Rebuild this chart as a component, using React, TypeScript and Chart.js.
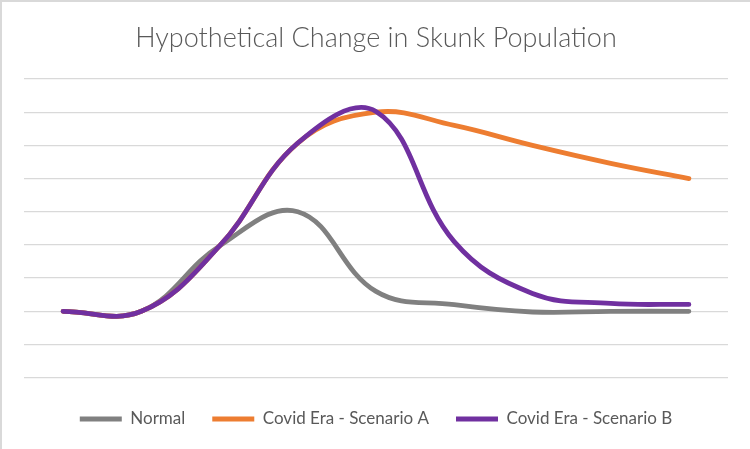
import React, { useEffect, useRef } from 'react';
import { Chart, registerables } from 'chart.js';

Chart.register(...registerables);

const categories = ['T1', 'T2', 'T3', 'T4', 'T5', 'T6', 'T7', 'T8', 'T9'];
const normal = [2.0, 2.0, 3.97, 5.0, 2.6, 2.2, 1.98, 2.0, 2.0];
const scenarioA = [2.0, 2.0, 3.97, 7.07, 8.0, 7.6, 7.0, 6.46, 6.0];
const scenarioB = [2.0, 2.0, 3.97, 7.07, 8.02, 4.1, 2.54, 2.24, 2.21];
const seriesNames = ['Normal', 'Covid Era - Scenario A', 'Covid Era - Scenario B'];
const yMin = 0;
const yMax = 9;
const yStep = 1;

export default function App() {
  const ref = useRef<HTMLCanvasElement | null>(null);

  useEffect(() => {
    document.body.style.margin = '0';
    if (!ref.current) return;
    const mk = (label: string, data: number[], color: string, order: number) => ({
      label,
      data,
      borderColor: color,
      backgroundColor: color,
      borderWidth: 4.8,
      borderCapStyle: 'round' as const,
      borderJoinStyle: 'round' as const,
      pointRadius: 0,
      pointHoverRadius: 0,
      tension: 0.4,
      fill: false,
      order,
    });
    const chart = new Chart(ref.current, {
      type: 'line',
      data: {
        labels: categories,
        datasets: [
          mk(seriesNames[0], normal, '#808080', 3),
          mk(seriesNames[1], scenarioA, '#ED7D31', 2),
          mk(seriesNames[2], scenarioB, '#7030A0', 1),
        ],
      },
      options: {
        responsive: false,
        animation: false,
        events: [],
        layout: { padding: { left: 24, right: 22, top: 20, bottom: 11.5 } },
        scales: {
          x: {
            type: 'category',
            offset: true,
            grid: { display: false, drawTicks: false },
            border: { display: false },
            ticks: { display: false },
            afterFit: (scale: any) => {
              scale.height = 5.8;
            },
          },
          y: {
            min: yMin,
            max: yMax,
            grid: { color: '#d9d9d9', lineWidth: 1.3, drawTicks: false },
            border: { display: false },
            ticks: { display: false, stepSize: yStep },
          },
        },
        plugins: {
          title: {
            display: true,
            text: 'Hypothetical Change in Skunk Population',
            color: '#595959',
            font: { family: 'Lato', size: 27, weight: 300 as any },
            padding: { top: 2, bottom: 24.6 },
          },
          legend: {
            display: true,
            position: 'bottom',
            labels: {
              usePointStyle: true,
              pointStyle: 'line',
              pointStyleWidth: 42,
              color: '#595959',
              font: { family: 'Lato', size: 17 },
              padding: 27,
              sort: (a: any, b: any) => a.datasetIndex - b.datasetIndex,
            },
          },
          tooltip: { enabled: false },
        },
      },
    });
    return () => chart.destroy();
  }, []);

  return (
    <div style={{ position: 'relative', width: 750, height: 449, background: '#fff' }}>
      <canvas ref={ref} width={750} height={449} style={{ display: 'block' }} />
      <div
        style={{
          position: 'absolute',
          left: 0,
          top: 0,
          width: 750,
          height: 449,
          boxSizing: 'border-box',
          borderTop: '2px solid #d9d9d9',
          borderLeft: '2px solid #d9d9d9',
          pointerEvents: 'none',
        }}
      />
    </div>
  );
}
